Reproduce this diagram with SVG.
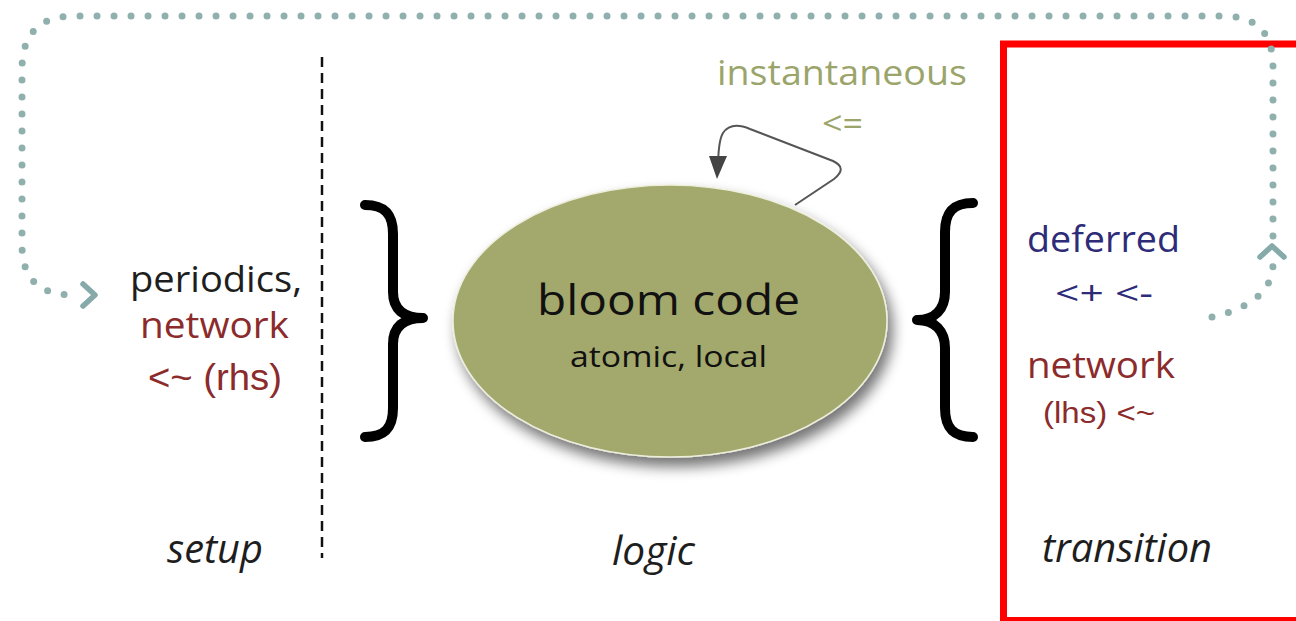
<svg xmlns="http://www.w3.org/2000/svg" width="1296" height="621" viewBox="0 0 1296 621">
<defs>
<style>
.t{font-family:"Open Sans","Noto Sans",sans-serif}
.a{font-family:"Liberation Sans",Arial,sans-serif}
.it{font-family:"Open Sans","Noto Sans",sans-serif;font-style:italic;font-size:40px;fill:#1e1e1e}
.dot{fill:none;stroke:#8fb0ad;stroke-width:7;stroke-linecap:round;stroke-dasharray:0 17}
.chev{fill:none;stroke:#86aaaa;stroke-width:5.5;stroke-linecap:round;stroke-linejoin:round}
.brace{fill:none;stroke:#000;stroke-width:10;stroke-linecap:round;stroke-linejoin:round}
.red{fill:#8b2b2b}
.navy{fill:#2e2b78}
.olive{fill:#9ba56b}
</style>
<filter id="sh" x="-20%" y="-20%" width="150%" height="150%">
<feGaussianBlur in="SourceAlpha" stdDeviation="7"/>
<feOffset dx="5" dy="9" result="b"/>
<feComponentTransfer><feFuncA type="linear" slope="0.55"/></feComponentTransfer>
<feMerge><feMergeNode/><feMergeNode in="SourceGraphic"/></feMerge>
</filter>
</defs>
<rect width="1296" height="621" fill="#fff"/>

<g id="frame">
<rect x="1003.5" y="44" width="320" height="576.5" fill="none" stroke="#ff0000" stroke-width="7"/>
</g>

<g id="connectors">
<path class="dot" d="M1212,317 C1240,311 1273,296 1273,264"/>
<polyline class="chev" points="1260,257 1272,246 1284,257"/>
<path class="dot" d="M1273,236 L1273,66 Q1273,16 1223,16 L75,16 Q22,16 22,69 L22,245 Q22,295 73,295"/>
<polyline class="chev" points="83,284 95,295 83,306"/>
<path d="M795,205 L834,179 Q848,168 833,161 L750,129 Q731,121 723,133 Q718,141 718,170" fill="none" stroke="#555" stroke-width="2"/>
<path d="M709,156 L727,156 L717,179 z" fill="#444"/>
<line x1="322" y1="57" x2="322" y2="558" stroke="#111" stroke-width="2.5" stroke-dasharray="10 6"/>
</g>

<g id="brace-left">
<path class="brace" d="M365,205 C385,205 393,214 393,234 L393,292 C393,309 403,318 423,318 C403,318 393,327 393,344 L393,408 C393,428 385,437 365,437"/>
</g>
<g id="brace-right">
<path class="brace" d="M973,203 C953,203 945,212 945,232 L945,292 C945,309 935,320 917,320 C935,320 945,331 945,348 L945,408 C945,428 953,437 973,437"/>
</g>

<g id="bloom">
<ellipse cx="670" cy="321" rx="217" ry="136" fill="#a3a86c" stroke="#eeeedd" stroke-width="1.5" filter="url(#sh)"/>
<text class="t" x="537" y="315" font-size="42" textLength="263" lengthAdjust="spacingAndGlyphs" fill="#111">bloom code</text>
<text class="t" x="570" y="367" font-size="30" textLength="197" lengthAdjust="spacingAndGlyphs" fill="#111">atomic, local</text>
</g>

<g id="instantaneous">
<text class="t olive" x="717" y="85" font-size="35" textLength="250" lengthAdjust="spacingAndGlyphs">instantaneous</text>
<text class="t olive" x="822" y="135" font-size="32" textLength="41" lengthAdjust="spacingAndGlyphs">&lt;=</text>
</g>

<g id="setup-inputs">
<text class="t" x="130" y="292" font-size="36" textLength="172" lengthAdjust="spacingAndGlyphs" fill="#1e1e1e">periodics,</text>
<text class="t red" x="140" y="338" font-size="36" textLength="149" lengthAdjust="spacingAndGlyphs">network</text>
<text class="a red" x="148" y="390" font-size="36" textLength="134" lengthAdjust="spacingAndGlyphs">&lt;~ (rhs)</text>
</g>

<g id="transition-outputs">
<text class="t navy" x="1027" y="252" font-size="36" textLength="153" lengthAdjust="spacingAndGlyphs">deferred</text>
<text class="t navy" x="1055" y="305" font-size="32" textLength="98" lengthAdjust="spacingAndGlyphs">&lt;+ &lt;-</text>
<text class="t red" x="1027" y="378" font-size="36" textLength="148" lengthAdjust="spacingAndGlyphs">network</text>
<text class="a red" x="1043" y="423" font-size="29" textLength="112" lengthAdjust="spacingAndGlyphs">(lhs) &lt;~</text>
</g>

<g id="labels">
<text class="it" x="167" y="563" textLength="96" lengthAdjust="spacingAndGlyphs">setup</text>
<text class="it" x="612" y="565" textLength="83" lengthAdjust="spacingAndGlyphs">logic</text>
<text class="it" x="1042" y="562" textLength="170" lengthAdjust="spacingAndGlyphs">transition</text>
</g>
</svg>
